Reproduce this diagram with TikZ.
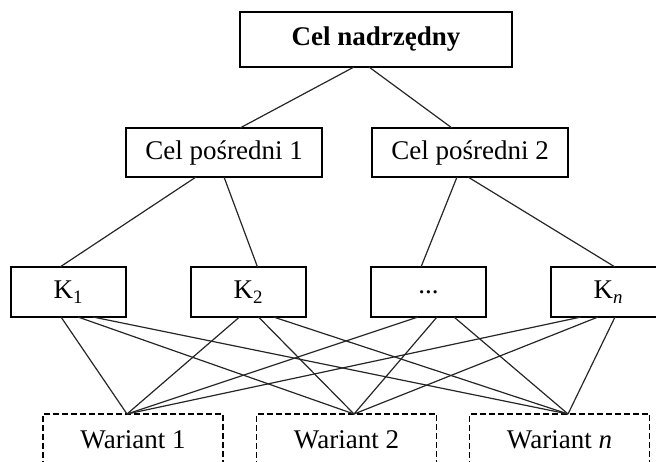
\documentclass[tikz,border=0pt]{standalone}
\usepackage{fontspec}
\setmainfont{Liberation Serif}
\usetikzlibrary{calc}
\usetikzlibrary{positioning}
\tikzset{%
  mybox/.style={rectangle, draw=black, line width=0.7pt, inner sep=0pt, outer sep=0pt, font=\fontsize{13.5pt}{16pt}\selectfont},
  topbox/.style={mybox, minimum width=136pt, minimum height=27.5pt, font=\fontsize{13.5pt}{16pt}\selectfont\bfseries},
  midbox/.style={mybox, minimum width=98pt, minimum height=24.5pt},
  critbox/.style={mybox, minimum width=57.5pt, minimum height=25pt},
  variantbox/.style={mybox, dash pattern=on 2.8pt off 1.7pt, minimum width=90pt, minimum height=26pt},
  myedge/.style={draw=black!85, line width=0.6pt}
}

\begin{document}
\begin{tikzpicture}[x=0.5pt, y=-0.5pt]
  \useasboundingbox (0,0) rectangle (656,461);
  \clip (0,0) rectangle (656,461);

  \node[topbox] (top) at (376,39.5) {Cel nadrzędny};
  \node[midbox] (p1) at (224,152.5) {Cel pośredni 1};
  \node[midbox, right=25pt of p1] (p2) {Cel pośredni 2};
  \node[critbox] (k1) at (68.5,292) {K\textsubscript{1}};
  \node[critbox, right=32.5pt of k1] (k2) {K\textsubscript{2}};
  \node[critbox, right=32.5pt of k2] (k3) {...};
  \node[critbox, right=32.5pt of k3] (kn) {K\textsubscript{\textit{n}}};
  \node[variantbox] (w1) at (133,440) {Wariant 1};
  \node[variantbox, right=16.75pt of w1] (w2) {Wariant 2};
  \node[variantbox, right=16.5pt of w2] (wn) {Wariant \textit{n}};

  % points where the lines meet the variants
  \coordinate (w1top) at ($(w1.north)+(-6,0)$);
  \coordinate (w2top) at ($(w2.north)+(7.5,0)$);
  \coordinate (wntop) at ($(wn.north)+(8.5,0)$);

  \draw [myedge] ($(top.south)+(-22,0)$) -- ($(p1.north)+(16,0)$);
  \draw [myedge] ($(top.south)+(-7,0)$) -- ($(p2.north)+(-18,0)$);
  \draw [myedge] ($(p1.south)+(-28,0)$) -- ($(k1.north)+(-8.5,0)$);
  \draw [myedge] (p1.south) -- ($(k2.north)+(9,0)$);
  \draw [myedge] ($(p2.south)+(-13,0)$) -- ($(k3.north)+(-7.5,0)$);
  \draw [myedge] ($(p2.south)+(-2,0)$) -- ($(kn.north)+(6.5,0)$);

  \foreach \k/\dx/\w in {k1/-7.5/w1top, k1/9.5/w2top, k1/24.5/wntop,
                         k2/-9/w1top, k2/10/w2top, k2/25/wntop,
                         k3/-10.5/w1top, k3/8.5/w2top, k3/25.5/wntop,
                         kn/-27.5/w1top, kn/-10.5/w2top, kn/6.5/wntop}
    \draw [myedge] ($(\k.south)+(\dx,0)$) -- (\w);
\end{tikzpicture}
\end{document}
